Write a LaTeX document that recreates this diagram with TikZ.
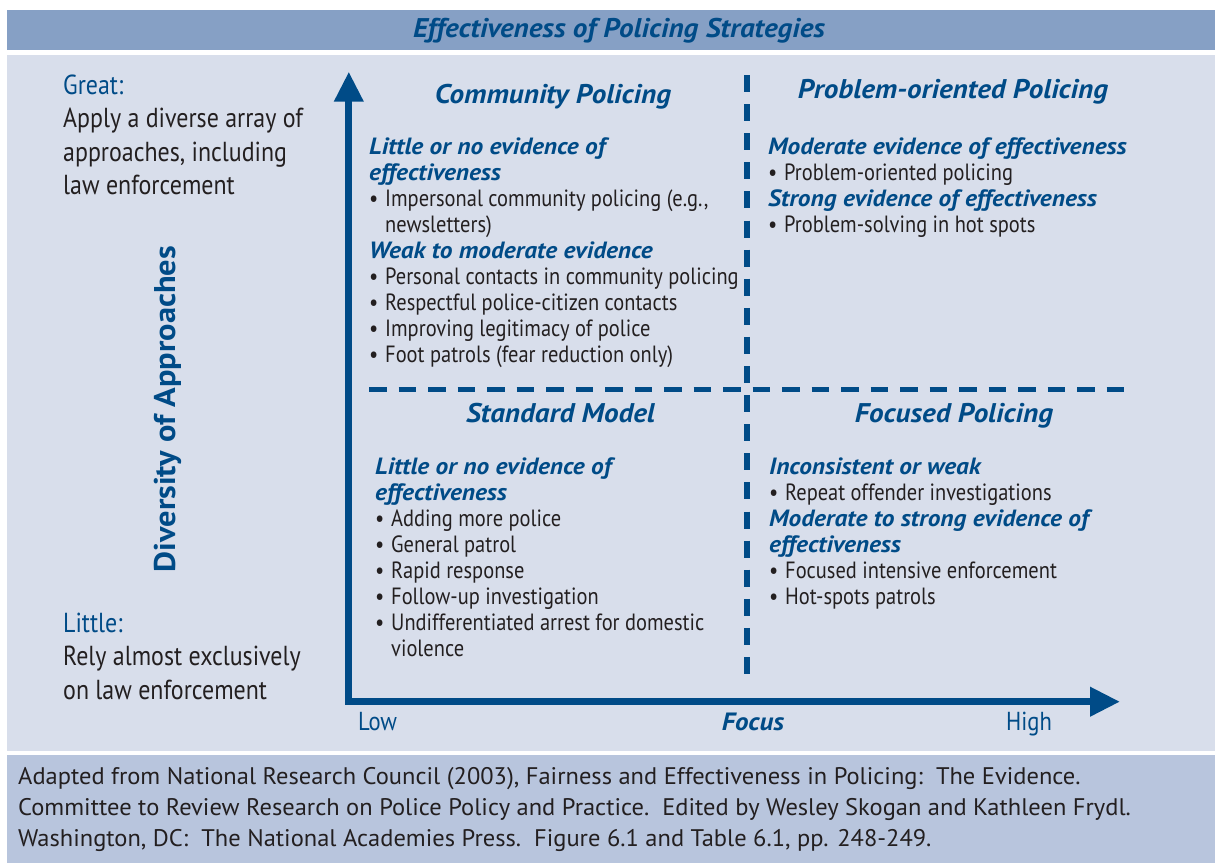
\documentclass[tikz,border=0pt]{standalone}
\usepackage{fontspec}
\setmainfont{PT Sans}
\newfontfamily\bodyfont{PT Sans}[FakeStretch=0.87]
\newfontfamily\headfont{PT Sans}[FakeStretch=1.08]
\newfontfamily\footfont{PT Sans}[FakeStretch=1.02]
\usetikzlibrary{arrows.meta}

\definecolor{bandblue}{HTML}{86A0C5}
\definecolor{panelblue}{HTML}{D8DEEB}
\definecolor{footblue}{HTML}{B8C5DD}
\definecolor{inkblue}{HTML}{004B87}
\definecolor{inkgray}{HTML}{231F20}

\newcommand{\itm}[1]{\makebox[16pt][l]{\textbullet}#1}
\newcommand{\cont}[1]{\hspace*{16pt}#1}
\newcommand{\hd}[1]{{\headfont\bfseries\itshape\color{inkblue}#1}}

% multi-line nodes sit on the baseline of their last line
\tikzset{
  body/.style={anchor=base west, inner sep=0pt, align=left, text=inkgray,
    font=\bodyfont\fontsize{23.5}{26}\selectfont},
  quadtitle/.style={anchor=base, inner sep=0pt, text=inkblue,
    font=\headfont\bfseries\itshape\fontsize{27}{32}\selectfont},
  sidetext/.style={anchor=base west, inner sep=0pt, align=left, text=inkgray,
    font=\bodyfont\fontsize{27.5}{33.5}\selectfont},
  axislabel/.style={inner sep=0pt, text=inkblue,
    font=\bodyfont\fontsize{26}{30}\selectfont},
  axis/.style={inkblue, line width=7pt, line join=miter,
    arrows={Triangle[length=30pt,width=28pt]-Triangle[length=30pt,width=28pt]}},
  divider/.style={inkblue, line width=5.5pt},
}

\begin{document}
\begin{tikzpicture}[x=1pt,y=-1pt]
  \useasboundingbox (0,0) rectangle (1215,863);
  % bands
  \fill[bandblue] (7,10) rectangle (1215,50);
  \fill[panelblue] (7,55) rectangle (1215,751);
  \fill[footblue] (7,755) rectangle (1215,863);

  \node[quadtitle] (title) at (619,37) {Effectiveness of Policing Strategies};

  % diversity axis text
  \node[sidetext] (great) at (63,194.5)
    {\textcolor{inkblue}{Great:}\\Apply a diverse array of\\approaches, including\\law enforcement};
  \node[sidetext] (little) at (63,699)
    {\textcolor{inkblue}{Little:}\\Rely almost exclusively\\on law enforcement};
  \node[rotate=90, anchor=base, inner sep=0pt, text=inkblue,
    font=\headfont\bfseries\fontsize{30}{34}\selectfont]
    (diversity) at (175,409) {Diversity of Approaches};

  % axes
  \coordinate (ytop) at (348.8,71.7);
  \coordinate (origin) at (348.8,701.7);
  \coordinate (xend) at (1120,701.7);
  \draw[axis] (ytop) -- (origin) -- (xend);
  \node[axislabel, anchor=base west] (low) at (358,730) {Low};
  \node[axislabel, anchor=base west] (high) at (1006,730) {High};
  \node[axislabel, anchor=base, font=\headfont\bfseries\itshape\fontsize{25}{28}\selectfont]
    (focus) at (753,730) {Focus};

  % quadrant dividers
  \coordinate (vtop) at (747,75);
  \coordinate (vbot) at (747,677);
  \coordinate (hleft) at (369,389);
  \coordinate (hright) at (1125,389);
  \draw[divider, dash pattern=on 17pt off 12.1pt] (vtop) -- (vbot);
  \draw[divider, line width=5pt, dash pattern=on 17.5pt off 12pt] (hleft) -- (hright);

  % Community Policing
  \node[quadtitle] (cptitle) at (553,103) {Community Policing};
  \node[body] (cpbody) at (369,362)
    {\hd{Little or no evidence of}\\
     \hd{effectiveness}\\
     \itm{Impersonal community policing (e.g.,}\\
     \cont{newsletters)}\\
     \hd{Weak to moderate evidence}\\
     \itm{Personal contacts in community policing}\\
     \itm{Respectful police-citizen contacts}\\
     \itm{Improving legitimacy of police}\\
     \itm{Foot patrols (fear reduction only)}};

  % Problem-oriented Policing
  \node[quadtitle] (potitle) at (953,98) {Problem-oriented Policing};
  \node[body] (pobody) at (768,232)
    {\hd{Moderate evidence of effectiveness}\\
     \itm{Problem-oriented policing}\\
     \hd{Strong evidence of effectiveness}\\
     \itm{Problem-solving in hot spots}};

  % Standard Model
  \node[quadtitle] (smtitle) at (560.5,422) {Standard Model};
  \node[body] (smbody) at (375,656)
    {\hd{Little or no evidence of}\\
     \hd{effectiveness}\\
     \itm{Adding more police}\\
     \itm{General patrol}\\
     \itm{Rapid response}\\
     \itm{Follow-up investigation}\\
     \itm{Undifferentiated arrest for domestic}\\
     \cont{violence}};

  % Focused Policing
  \node[quadtitle] (fptitle) at (954,422) {Focused Policing};
  \node[body] (fpbody) at (769,604)
    {\hd{Inconsistent or weak}\\
     \itm{Repeat offender investigations}\\
     \hd{Moderate to strong evidence of}\\
     \hd{effectiveness}\\
     \itm{Focused intensive enforcement}\\
     \itm{Hot-spots patrols}};

  % source
  \node[anchor=base west, align=left, inner sep=0pt, text=inkgray,
    font=\footfont\fontsize{24}{31}\selectfont] (source) at (18,846)
    {Adapted from National Research Council (2003), Fairness and Effectiveness in Policing:\ \ The Evidence.\\
     Committee to Review Research on Police Policy and Practice.\ \ Edited by Wesley Skogan and Kathleen Frydl.\\
     Washington, DC:\ \ The National Academies Press.\ \ Figure 6.1 and Table 6.1, pp. 248-249.};
\end{tikzpicture}
\end{document}
